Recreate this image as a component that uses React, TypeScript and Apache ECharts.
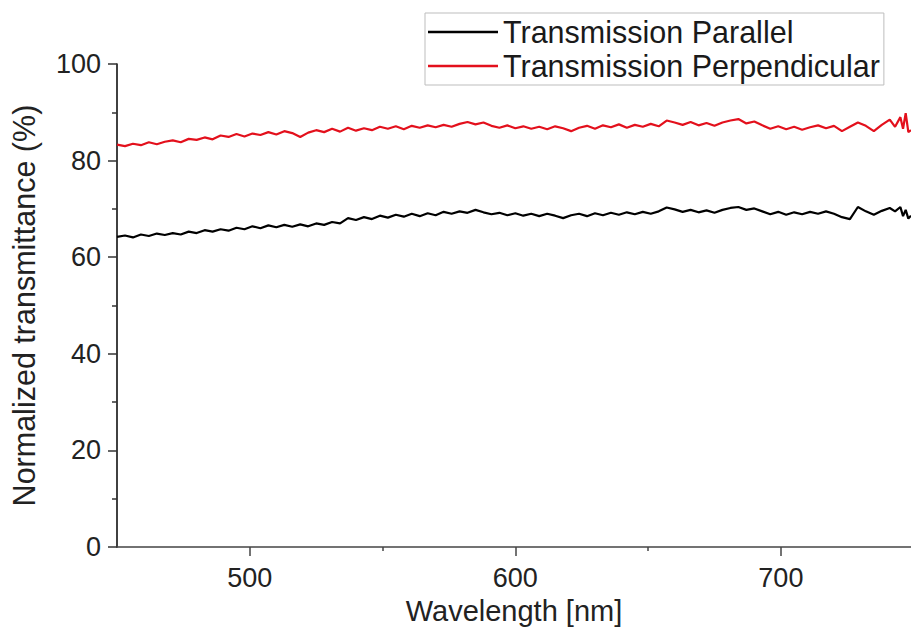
import React, { useEffect, useRef } from "react";
import * as echarts from "echarts";

const wavelengths = [
  450, 453, 456, 459, 462, 465, 468, 471, 474, 477, 480, 483, 486, 489, 492, 495, 498,
  501, 504, 507, 510, 513, 516, 519, 522, 525, 528, 531, 534, 537, 540, 543, 546, 549,
  552, 555, 558, 561, 564, 567, 570, 573, 576, 579, 582, 585, 588, 591, 594, 597, 600,
  603, 606, 609, 612, 615, 618, 621, 624, 627, 630, 633, 636, 639, 642, 645, 648, 651,
  654, 657, 660, 663, 666, 669, 672, 675, 678, 681, 684, 687, 690, 693, 696, 699, 702,
  705, 708, 711, 714, 717, 720, 723, 726, 729, 732, 735, 738, 741, 743, 745, 746, 747,
  748, 749,
];

const parallel = [
  64.2, 64.5, 64.1, 64.7, 64.4, 64.9, 64.6, 65.0, 64.7, 65.3, 65.0, 65.6, 65.3, 65.8, 65.5, 66.1, 65.8,
  66.4, 66.0, 66.6, 66.2, 66.7, 66.3, 66.8, 66.4, 67.0, 66.7, 67.3, 67.0, 68.1, 67.7, 68.3, 67.9, 68.6,
  68.2, 68.8, 68.4, 69.0, 68.5, 69.1, 68.7, 69.4, 69.0, 69.5, 69.2, 69.8, 69.3, 68.9, 69.2, 68.7, 69.1,
  68.6, 69.0, 68.5, 69.0, 68.6, 68.1, 68.7, 69.0, 68.5, 69.1, 68.7, 69.2, 68.8, 69.3, 68.9, 69.4, 69.0,
  69.5, 70.3, 69.9, 69.4, 69.8, 69.3, 69.7, 69.2, 69.8, 70.2, 70.4, 69.8, 70.1, 69.5, 68.9, 69.4, 68.8,
  69.3, 68.9, 69.4, 69.0, 69.5, 69.0, 68.3, 67.9, 70.4, 69.5, 68.8, 69.6, 70.2, 69.5, 70.4, 68.5, 69.8,
  68.0, 68.6,
];

const perpendicular = [
  83.3, 83.0, 83.5, 83.2, 83.8, 83.4, 83.9, 84.2, 83.8, 84.5, 84.3, 84.8, 84.4, 85.2, 84.9, 85.5, 85.0,
  85.6, 85.3, 85.9, 85.4, 86.1, 85.7, 84.9, 85.8, 86.3, 85.9, 86.6, 86.0, 86.8, 86.2, 86.7, 86.3, 87.0,
  86.6, 87.1, 86.5, 87.2, 86.8, 87.3, 86.9, 87.4, 87.0, 87.6, 88.0, 87.5, 87.9, 87.2, 86.8, 87.3, 86.7,
  87.1, 86.6, 87.0, 86.5, 87.1, 86.7, 86.1, 86.8, 87.2, 86.6, 87.3, 86.9, 87.5, 86.8, 87.4, 87.0, 87.6,
  87.1, 88.3, 87.9, 87.4, 88.0, 87.3, 87.8, 87.2, 87.9, 88.3, 88.6, 87.7, 88.1, 87.3, 86.6, 87.1, 86.5,
  87.0, 86.4, 86.9, 87.3, 86.7, 87.2, 86.1, 87.0, 87.9, 87.2, 86.1, 87.4, 88.5, 87.0, 89.0, 86.6, 89.8,
  85.9, 86.3,
];

const xMajorTicks = [500, 600, 700];
const xMinorTicks = [550, 650];

const FONT = "'Liberation Sans', Arial, sans-serif";

export default function App() {
  const ref = useRef<HTMLDivElement>(null);

  useEffect(() => {
    if (!ref.current) return;
    const chart = echarts.init(ref.current, undefined, { renderer: "svg" });
    const pair = (ys: number[]) => wavelengths.map((x, i) => [x, ys[i]]);
    chart.setOption({
      animation: false,
      backgroundColor: "#ffffff",
      textStyle: { fontFamily: FONT },
      grid: { left: 115, right: 0, top: 64, bottom: 82, containLabel: false },
      legend: {
        orient: "vertical",
        left: 425,
        top: 13,
        padding: [3, 4, 3, 3],
        itemGap: 2,
        itemWidth: 70,
        itemHeight: 2.5,
        icon: "rect",
        borderColor: "#bdbdbd",
        borderWidth: 1,
        textStyle: { fontSize: 30.5, color: "#1a1a1a", fontFamily: FONT, lineHeight: 32 },
        data: [
          { name: "Transmission Parallel", icon: "rect" },
          { name: "Transmission Perpendicular", icon: "rect" },
        ],
      },
      xAxis: [
        {
          type: "value",
          min: 450,
          max: 749,
          position: "bottom",
          splitLine: { show: false },
          axisLine: { show: true, onZero: false, lineStyle: { color: "#444", width: 1.6 } },
          axisTick: { show: true, inside: false, length: 9, customValues: xMajorTicks, lineStyle: { color: "#444", width: 1.5 } },
          axisLabel: { show: true, customValues: xMajorTicks, fontSize: 27, color: "#222", margin: 17, fontFamily: FONT },
          name: "Wavelength [nm]",
          nameLocation: "middle",
          nameGap: 48,
          nameTextStyle: { fontSize: 29, color: "#222", fontFamily: FONT },
        },
        {
          type: "value",
          min: 450,
          max: 749,
          position: "bottom",
          splitLine: { show: false },
          axisLine: { show: false },
          axisTick: { show: true, inside: false, length: 4, customValues: xMinorTicks, lineStyle: { color: "#444", width: 1.5 } },
          axisLabel: { show: false },
        },
      ],
      yAxis: {
        type: "value",
        min: 0,
        max: 100,
        interval: 20,
        splitLine: { show: false },
        axisLine: { show: true, onZero: false, lineStyle: { color: "#111", width: 1.6 } },
        axisTick: { show: true, inside: false, length: 9, lineStyle: { color: "#333", width: 1.5 } },
        minorTick: { show: true, splitNumber: 2, length: 5, lineStyle: { color: "#333", width: 1.5 } },
        axisLabel: { fontSize: 27, color: "#222", margin: 16, fontFamily: FONT },
        name: "Normalized transmittance (%)",
        nameLocation: "middle",
        nameGap: 78,
        nameTextStyle: { fontSize: 30.5, color: "#222", fontFamily: FONT },
      },
      series: [
        {
          name: "Transmission Parallel",
          type: "line",
          xAxisIndex: 0,
          data: pair(parallel),
          symbol: "none",
          showSymbol: false,
          lineStyle: { color: "#000000", width: 2.2 },
          itemStyle: { color: "#000000" },
        },
        {
          name: "Transmission Perpendicular",
          type: "line",
          xAxisIndex: 0,
          data: pair(perpendicular),
          symbol: "none",
          showSymbol: false,
          lineStyle: { color: "#e3101c", width: 2.2 },
          itemStyle: { color: "#e3101c" },
        },
      ],
    });
    return () => chart.dispose();
  }, []);

  return (
    <div
      ref={ref}
      style={{ position: "fixed", left: 0, top: 0, width: 911, height: 630, background: "#fff" }}
    />
  );
}
